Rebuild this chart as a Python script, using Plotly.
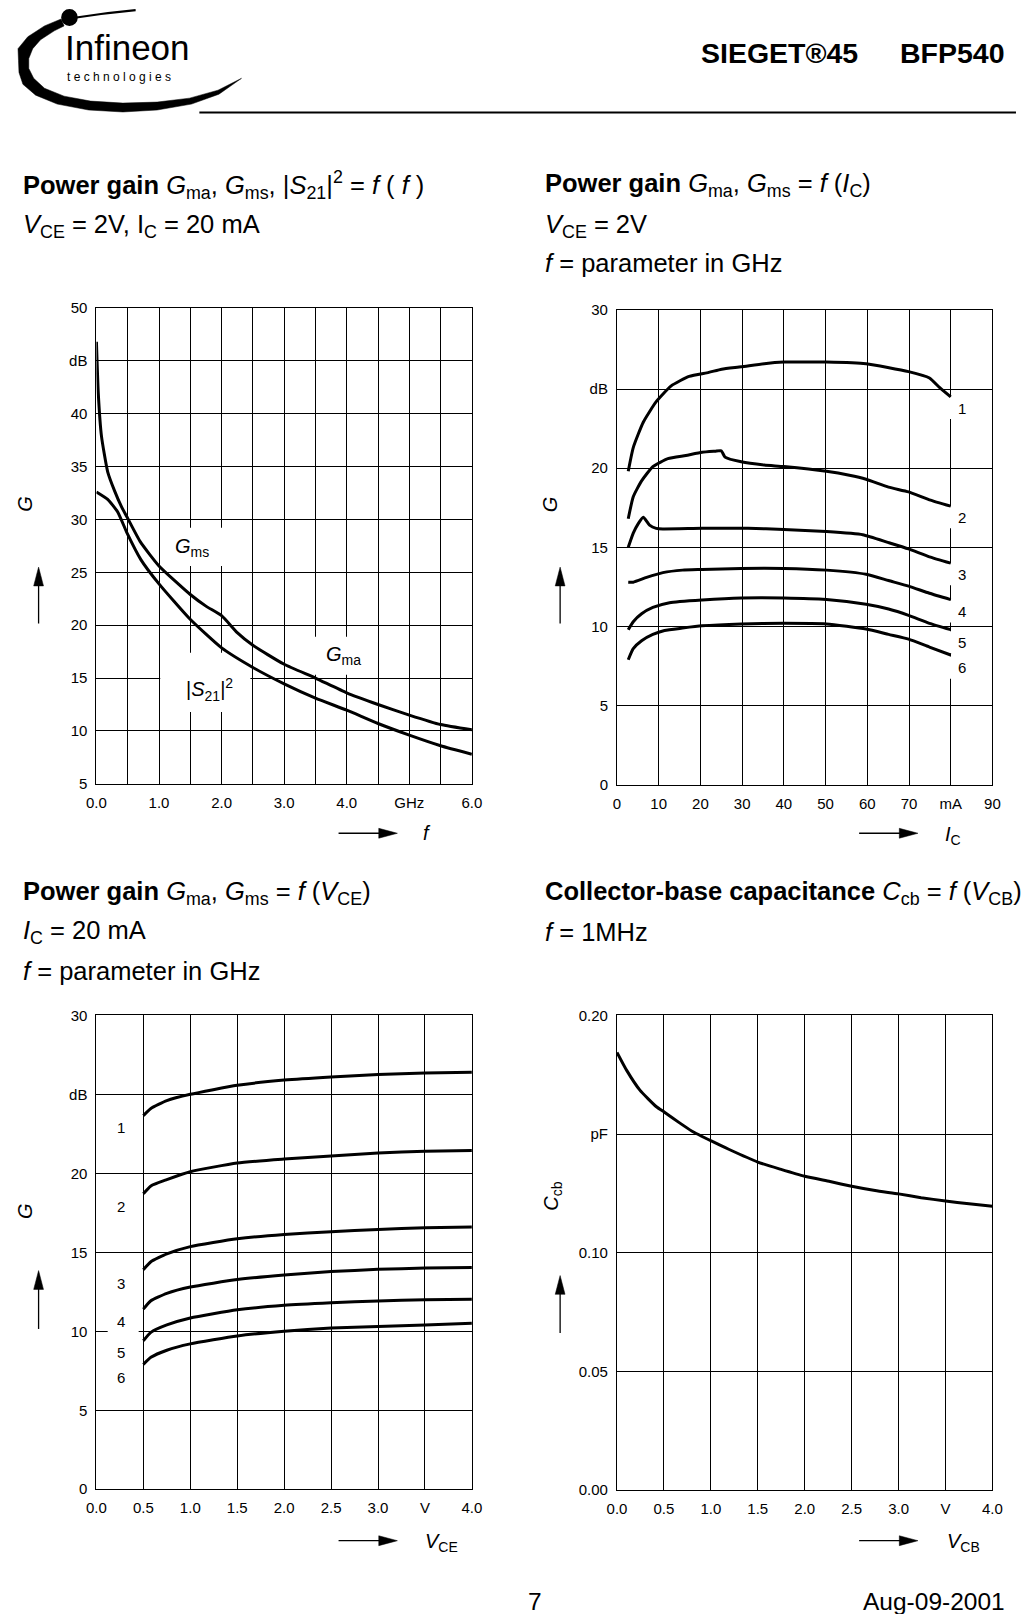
import plotly.graph_objects as go

W, H = 1033, 1622
OFF = 8                      # default page margin of the browser body
FW, FH = W - 2 * OFF, H - 2 * OFF
FONT = "Liberation Sans, Arial, Helvetica, sans-serif"

# ---------------- data ----------------
# Chart A: G vs f
freq_upper = [0.0, 0.03, 0.08, 0.18, 0.29, 0.4, 0.5, 0.7, 1.0, 1.5, 1.75, 2.0, 2.25, 2.5, 3.0, 3.5, 4.0, 4.5, 5.0, 5.5, 6.0]
gms_gma = [46.8, 41.9, 37.9, 34.5, 32.7, 31.2, 30.1, 27.9, 25.6, 22.9, 21.8, 20.9, 19.3, 18.1, 16.3, 15.0, 13.6, 12.5, 11.5, 10.6, 10.1]
freq_s21 = [0.0, 0.18, 0.34, 0.49, 0.71, 1.0, 1.49, 1.99, 2.5, 3.0, 3.5, 4.0, 4.5, 5.0, 5.5, 6.0]
s21_sq = [32.6, 31.9, 30.7, 28.7, 26.2, 23.9, 20.6, 17.9, 16.0, 14.45, 13.1, 11.96, 10.7, 9.6, 8.6, 7.8]

# Chart B: G vs IC, f parameter curves 1..6
ic1 = [2.7, 3.9, 6.3, 9.4, 13.0, 17.3, 22.0, 25.1, 29.8, 35.3, 40.0, 47.1, 50.2, 59.7, 69.9, 74.9, 77.3, 80.0]
g1 = [19.8, 21.3, 22.9, 24.2, 25.2, 25.8, 26.05, 26.25, 26.4, 26.6, 26.7, 26.7, 26.7, 26.6, 26.1, 25.7, 25.1, 24.5]
ic2 = [2.7, 3.9, 5.9, 8.6, 12.2, 16.5, 20.4, 23.5, 25.0, 25.9, 29.8, 35.3, 40.0, 50.2, 55.7, 59.7, 65.1, 69.9, 74.9, 80.0]
g2 = [16.8, 18.2, 19.2, 20.1, 20.6, 20.8, 21.0, 21.07, 21.1, 20.7, 20.4, 20.2, 20.1, 19.8, 19.55, 19.3, 18.8, 18.5, 18.0, 17.6]
ic3 = [2.7, 3.9, 5.1, 6.3, 7.8, 9.4, 11.0, 20.4, 31.4, 40.0, 50.2, 58.9, 65.1, 69.9, 74.9, 80.0]
g3 = [15.0, 15.9, 16.5, 16.9, 16.4, 16.2, 16.16, 16.2, 16.2, 16.13, 16.0, 15.8, 15.3, 14.9, 14.4, 14.0]
ic4 = [2.7, 3.9, 7.1, 11.0, 15.7, 20.4, 29.8, 40.0, 50.2, 59.7, 65.1, 69.9, 74.9, 80.0]
g4 = [12.8, 12.8, 13.1, 13.4, 13.56, 13.6, 13.67, 13.67, 13.56, 13.3, 12.9, 12.55, 12.1, 11.7]
ic5 = [2.7, 3.9, 5.9, 8.6, 12.6, 20.4, 29.8, 40.0, 50.2, 59.7, 65.1, 69.9, 74.9, 80.0]
g5 = [9.8, 10.3, 10.8, 11.2, 11.5, 11.67, 11.8, 11.8, 11.7, 11.4, 11.1, 10.7, 10.2, 9.8]
ic6 = [2.7, 3.9, 5.9, 8.6, 11.4, 15.7, 20.4, 29.8, 40.0, 50.2, 59.7, 65.1, 69.9, 74.9, 80.0]
g6 = [7.9, 8.6, 9.1, 9.5, 9.75, 9.9, 10.04, 10.16, 10.2, 10.16, 9.84, 9.5, 9.2, 8.7, 8.2]
ic_curves = [(ic1, g1), (ic2, g2), (ic3, g3), (ic4, g4), (ic5, g5), (ic6, g6)]
ic_label_names = ["1", "2", "3", "4", "5", "6"]
ic_label_x = 82.8
ic_label_y = [23.8, 16.9, 13.3, 10.95, 9.0, 7.4]

# Chart C: G vs VCE
vce = [0.5, 0.58, 0.75, 1.0, 1.5, 2.0, 2.5, 3.0, 3.5, 4.0]
gv1 = [23.65, 24.1, 24.6, 25.0, 25.57, 25.9, 26.1, 26.25, 26.35, 26.4]
gv2 = [18.7, 19.2, 19.6, 20.1, 20.65, 20.9, 21.1, 21.28, 21.4, 21.45]
gv3 = [13.9, 14.4, 14.9, 15.36, 15.85, 16.13, 16.3, 16.45, 16.56, 16.6]
gv4 = [11.4, 11.93, 12.4, 12.8, 13.27, 13.56, 13.78, 13.92, 14.0, 14.03]
gv5 = [9.4, 9.93, 10.4, 10.84, 11.36, 11.64, 11.8, 11.92, 12.0, 12.03]
gv6 = [7.9, 8.35, 8.8, 9.2, 9.7, 10.0, 10.2, 10.3, 10.4, 10.5]
vce_curves = [gv1, gv2, gv3, gv4, gv5, gv6]
vce_label_x = 0.26
vce_label_y = [22.9, 17.9, 13.05, 10.6, 8.65, 7.1]

# Chart D: Ccb vs VCB
vcb = [0.0, 0.105, 0.244, 0.42, 0.506, 0.663, 0.80, 1.01, 1.19, 1.5, 1.74, 2.0, 2.27, 2.5, 2.75, 3.0, 3.24, 3.5, 3.75, 4.0]
ccb = [0.1844, 0.1767, 0.1685, 0.1615, 0.1592, 0.1548, 0.1512, 0.1470, 0.1436, 0.1382, 0.1352, 0.1322, 0.1300, 0.1280, 0.1262, 0.1248, 0.1232, 0.1218, 0.1206, 0.1196]

# tick labels
a_xvals = [0, 0.5, 1, 1.5, 2, 2.5, 3, 3.5, 4, 4.5, 5, 5.5, 6]
a_xtext = ["0.0", "", "1.0", "", "2.0", "", "3.0", "", "4.0", "", "GHz", "", "6.0"]
a_yvals = [5, 10, 15, 20, 25, 30, 35, 40, 45, 50]
a_ytext = ["5", "10", "15", "20", "25", "30", "35", "40", "dB", "50"]
b_xvals = [0, 10, 20, 30, 40, 50, 60, 70, 80, 90]
b_xtext = ["0", "10", "20", "30", "40", "50", "60", "70", "mA", "90"]
g_yvals = [0, 5, 10, 15, 20, 25, 30]
g_ytext = ["0", "5", "10", "15", "20", "dB", "30"]
v_xvals = [0, 0.5, 1, 1.5, 2, 2.5, 3, 3.5, 4]
v_xtext = ["0.0", "0.5", "1.0", "1.5", "2.0", "2.5", "3.0", "V", "4.0"]
d_yvals = [0.0, 0.05, 0.10, 0.15, 0.20]
d_ytext = ["0.00", "0.05", "0.10", "pF", "0.20"]

# ---------------- helpers ----------------
def X(px):
    return (px - OFF) / FW

def Y(py):
    return 1 - (py - OFF) / FH

fig = go.Figure()
LW = 3

def curve(x, y, ax):
    fig.add_trace(go.Scatter(x=x, y=y, mode="lines", xaxis="x" + ax, yaxis="y" + ax,
                             line=dict(color="black", width=LW, shape="spline", smoothing=0.5),
                             hoverinfo="skip", showlegend=False))

curve(freq_upper, gms_gma, "")
curve(freq_s21, s21_sq, "")
for xs, ys in ic_curves:
    curve(xs, ys, "2")
for ys in vce_curves:
    curve(vce, ys, "3")
curve(vcb, ccb, "4")

def axis(domain, rng, vals, text, anchor):
    return dict(domain=domain, range=rng, tickvals=vals, ticktext=text, anchor=anchor,
                showgrid=True, gridcolor="black", gridwidth=1, zeroline=False,
                showline=True, linecolor="black", linewidth=1, mirror=True,
                ticks="", ticklabelstandoff=5, fixedrange=True,
                tickfont=dict(family=FONT, size=15, color="black"))

L_dom = [X(88), X(471)]
R_dom = [X(619), X(1002)]
A_dom = [Y(783), Y(302)]
B_dom = [Y(784), Y(304)]
C_dom = [Y(1496), Y(1017)]
D_dom = [Y(1497), Y(1017)]

shapes = []
ann = []

def text(x, y, s, size=25.5, xanchor="left", yanchor="middle", xref="paper", yref="paper",
         angle=0, pad=1, family=FONT):
    ann.append(dict(x=x, y=y, text=s, xref=xref, yref=yref, showarrow=False, xanchor=xanchor,
                    yanchor=yanchor, textangle=angle, borderpad=pad,
                    font=dict(family=family, size=size, color="black")))

def mask(x0, x1, y0, y1, ax):
    shapes.append(dict(type="rect", xref="x" + ax, yref="y" + ax, x0=x0, x1=x1, y0=y0, y1=y1,
                       fillcolor="white", line=dict(width=0), layer="between"))

def harrow(x0, x1, y):
    shapes.append(dict(type="line", xref="paper", yref="paper", x0=X(x0), x1=X(x1 - 14), y0=Y(y), y1=Y(y),
                       line=dict(color="black", width=1.3)))
    shapes.append(dict(type="path", xref="paper", yref="paper",
                       path=f"M {X(x1 - 19)},{Y(y - 5)} L {X(x1)},{Y(y)} L {X(x1 - 19)},{Y(y + 5)} Z",
                       fillcolor="black", line=dict(color="black", width=0.5)))

def varrow(x, ytop, ybot):
    shapes.append(dict(type="line", xref="paper", yref="paper", x0=X(x), x1=X(x), y0=Y(ybot), y1=Y(ytop + 14),
                       line=dict(color="black", width=1.3)))
    shapes.append(dict(type="path", xref="paper", yref="paper",
                       path=f"M {X(x - 5)},{Y(ytop + 19)} L {X(x)},{Y(ytop)} L {X(x + 5)},{Y(ytop + 19)} Z",
                       fillcolor="black", line=dict(color="black", width=0.5)))

# ---------------- header (logo) ----------------
outer = [(52, 10), (35, 17), (18, 28), (8, 40), (8.5, 52), (9, 64), (13, 76), (26, 87), (48, 96), (80, 102),
         (115, 104), (150, 102), (185, 96), (213, 86), (236, 70)]
inner = [(236, 70), (212, 82), (183, 90), (150, 94), (115, 95), (82, 93), (55, 88), (35, 80), (24, 70),
         (19, 60), (19, 50), (23, 40), (31, 31), (45, 22), (55, 17)]
pts = outer + inner
path = "M " + " L ".join(f"{X(a)},{Y(b)}" for a, b in pts) + " Z"
shapes.append(dict(type="path", xref="paper", yref="paper", path=path, fillcolor="black",
                   line=dict(color="black", width=0.5)))
shapes.append(dict(type="path", xref="paper", yref="paper",
                   path=f"M {X(64)},{Y(9)} Q {X(95)},{Y(4)} {X(128)},{Y(1)}",
                   line=dict(color="black", width=2.2)))
shapes.append(dict(type="circle", xref="paper", yref="paper", x0=X(52), x1=X(69), y0=Y(17), y1=Y(0),
                   fillcolor="black", line=dict(color="black", width=0)))
text(X(54), Y(39), "Infineon", size=35)
text(X(56), Y(69), "t e c h n o l o g i e s", size=12)
text(X(867), Y(44), "<b>SIEGET®45</b>", size=28.5, xanchor="right")
text(X(1017), Y(44), "<b>BFP540</b>", size=28.5, xanchor="right")
shapes.append(dict(type="line", xref="paper", yref="paper", x0=X(193), x1=X(1026), y0=Y(104.5), y1=Y(104.5),
                   line=dict(color="black", width=2)))

# ---------------- section titles ----------------
text(X(11), Y(178), "<b>Power gain</b> <i>G</i><sub>ma</sub>, <i>G</i><sub>ms</sub>, |<i>S</i><sub>21</sub>|<sup>2</sup> = <i>f</i> ( <i>f</i> )")
text(X(11), Y(219), "<i>V</i><sub>CE</sub> = 2V, I<sub>C</sub> = 20 mA")
text(X(544), Y(178), "<b>Power gain</b> <i>G</i><sub>ma</sub>, <i>G</i><sub>ms</sub> = <i>f</i> (<i>I</i><sub>C</sub>)")
text(X(544), Y(219), "<i>V</i><sub>CE</sub> = 2V")
text(X(544), Y(257), "<i>f</i> = parameter in GHz")
text(X(11), Y(893), "<b>Power gain</b> <i>G</i><sub>ma</sub>, <i>G</i><sub>ms</sub> = <i>f</i> (<i>V</i><sub>CE</sub>)")
text(X(11), Y(933), "<i>I</i><sub>C</sub> = 20 mA")
text(X(11), Y(972), "<i>f</i> = parameter in GHz")
text(X(544), Y(893), "<b>Collector-base capacitance</b> <i>C</i><sub>cb</sub> = <i>f</i> (<i>V</i><sub>CB</sub>)")
text(X(544), Y(933), "<i>f</i> = 1MHz")

# ---------------- axis titles and arrows ----------------
text(X(15), Y(500), "<i>G</i>", size=20, xanchor="center", angle=-90)
varrow(29, 564, 621)
harrow(335, 395, 833)
text(X(425), Y(833), "<i>f</i>", size=20, xanchor="center")

text(X(550), Y(500), "<i>G</i>", size=20, xanchor="center", angle=-90)
varrow(561, 564, 621)
harrow(866, 926, 833)
text(X(962), Y(835), "<i>I</i><sub>C</sub>", size=20, xanchor="center")

text(X(15), Y(1215), "<i>G</i>", size=20, xanchor="center", angle=-90)
varrow(29, 1275, 1334)
harrow(335, 395, 1548)
text(X(440), Y(1550), "<i>V</i><sub>CE</sub>", size=20, xanchor="center")

text(X(553), Y(1200), "<i>C</i><sub>cb</sub>", size=20, xanchor="center", angle=-90)
varrow(561, 1280, 1338)
harrow(866, 926, 1548)
text(X(972), Y(1550), "<i>V</i><sub>CB</sub>", size=20, xanchor="center")

# ---------------- in-plot labels with gridline masks ----------------
mask(1.12, 2.05, 25.6, 29.2, "")
text(1.53, 27.3, "<i>G</i><sub>ms</sub>", size=20, xanchor="center", xref="x", yref="y")
mask(3.45, 4.15, 15.3, 18.9, "")
text(3.95, 17.1, "<i>G</i><sub>ma</sub>", size=20, xanchor="center", xref="x", yref="y")
mask(1.02, 2.46, 11.8, 17.4, "")
text(1.8, 13.9, "|<i>S</i><sub>21</sub>|<sup>2</sup>", size=20, xanchor="center", xref="x", yref="y")

for name, yv in zip(ic_label_names, ic_label_y):
    mask(79, 86.5, yv - 0.7, yv + 0.7, "2")
    text(ic_label_x, yv, name, size=15, xanchor="center", xref="x2", yref="y2")

for name, yv in zip(ic_label_names, vce_label_y):
    mask(0.12, 0.45, yv - 0.65, yv + 0.65, "3")
    text(vce_label_x, yv, name, size=15, xanchor="center", xref="x3", yref="y3")

# ---------------- footer ----------------
text(X(535), Y(1609), "7", size=24.5, xanchor="center")
text(X(1017), Y(1609), "Aug-09-2001", size=24.5, xanchor="right")

fig.update_layout(
    width=FW, height=FH, margin=dict(l=0, r=0, t=0, b=0),
    paper_bgcolor="white", plot_bgcolor="white", showlegend=False,
    font=dict(family=FONT, color="black"),
    xaxis=axis(L_dom, [0, 6], a_xvals, a_xtext, "y"),
    yaxis=axis(A_dom, [5, 50], a_yvals, a_ytext, "x"),
    xaxis2=axis(R_dom, [0, 90], b_xvals, b_xtext, "y2"),
    yaxis2=axis(B_dom, [0, 30], g_yvals, g_ytext, "x2"),
    xaxis3=axis(L_dom, [0, 4], v_xvals, v_xtext, "y3"),
    yaxis3=axis(C_dom, [0, 30], g_yvals, g_ytext, "x3"),
    xaxis4=axis(R_dom, [0, 4], v_xvals, v_xtext, "y4"),
    yaxis4=axis(D_dom, [0, 0.2], d_yvals, d_ytext, "x4"),
    shapes=shapes, annotations=ann,
)

fig.write_html("out.html", config={"displayModeBar": False, "staticPlot": True})
